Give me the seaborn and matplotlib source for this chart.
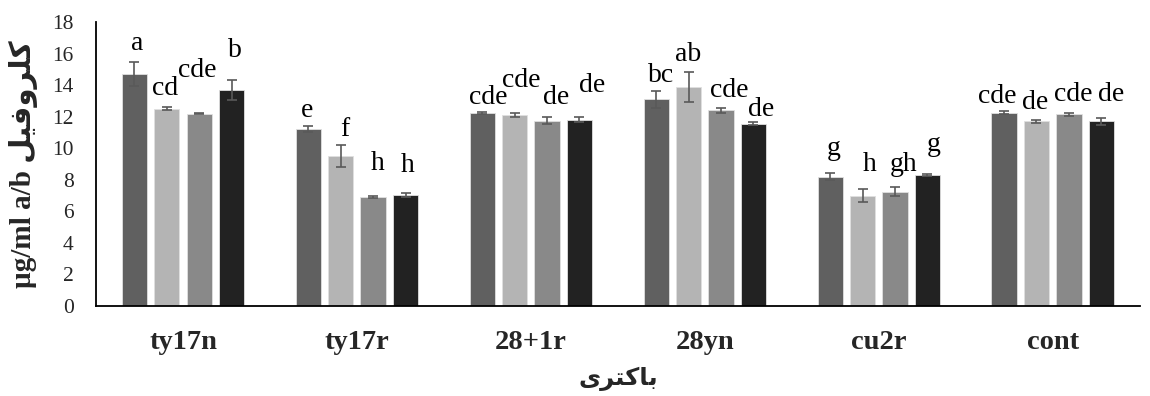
import matplotlib
matplotlib.use("Agg")
import matplotlib.pyplot as plt
import matplotlib.transforms as mtransforms
import seaborn as sns
import pandas as pd

# Bacterial treatments on the x axis
categories = ["ty17n", "ty17r", "28+1r", "28yn", "cu2r", "cont"]
series_names = ["s1", "s2", "s3", "s4"]

# Chlorophyll a/b means per series
s1 = [14.7, 11.2, 12.25, 13.1, 8.2, 12.25]
s2 = [12.5, 9.5, 12.1, 13.9, 7.0, 11.7]
s3 = [12.2, 6.9, 11.75, 12.4, 7.25, 12.15]
s4 = [13.7, 7.05, 11.8, 11.55, 8.3, 11.7]

# Standard errors
err1 = [0.75, 0.2, 0.05, 0.55, 0.2, 0.1]
err2 = [0.1, 0.7, 0.15, 0.95, 0.4, 0.12]
err3 = [0.05, 0.08, 0.2, 0.15, 0.28, 0.08]
err4 = [0.65, 0.12, 0.15, 0.1, 0.05, 0.2]

# Mean-separation letters
letters1 = ["a", "e", "cde", "bc", "g", "cde"]
letters2 = ["cd", "f", "cde", "ab", "h", "de"]
letters3 = ["cde", "h", "de", "cde", "gh", "cde"]
letters4 = ["b", "h", "de", "de", "g", "de"]

# Baseline heights of the letters (data units) and horizontal nudges (pixels)
label_y1 = [16.2, 12.0, 12.8, 14.2, 9.6, 12.9]
label_y2 = [13.4, 10.75, 13.9, 15.5, 8.55, 12.5]
label_y3 = [14.5, 8.6, 12.8, 13.25, 8.55, 13.0]
label_y4 = [15.8, 8.5, 13.55, 12.05, 9.8, 13.0]
label_dx1 = [3, -1, 6, 5, 4, -7]
label_dx2 = [-2, 4, 7, 0, 7, -1]
label_dx3 = [-2, 5, 9, 8, 9, 4]
label_dx4 = [3, 2, 13, 8, 6, 10]

values = [s1, s2, s3, s4]
errors = [err1, err2, err3, err4]
letters = [letters1, letters2, letters3, letters4]
label_ys = [label_y1, label_y2, label_y3, label_y4]
label_dxs = [label_dx1, label_dx2, label_dx3, label_dx4]

df = pd.DataFrame(
    [(c, name, v) for name, vals in zip(series_names, values) for c, v in zip(categories, vals)],
    columns=["bacteria", "series", "value"],
)

sns.set_style("white")
plt.rcParams["font.family"] = ["Liberation Serif", "DejaVu Sans"]

palette = ["#606060", "#b4b4b4", "#898989", "#222222"]

fig = plt.figure(figsize=(11.5, 3.96), dpi=100)
ax = fig.add_axes([0.0835, 0.2273, 0.9075, 0.717])

sns.barplot(
    data=df, x="bacteria", y="value", hue="series", order=categories,
    hue_order=series_names, palette=palette, saturation=1, width=0.745, gap=0.22,
    errorbar=None, legend=False, edgecolor="#e0e0e0", linewidth=0.6, ax=ax,
)

for cont, errs, labs, lys, dxs in zip(ax.containers, errors, letters, label_ys, label_dxs):
    for bar, e, lab, ly, dx in zip(cont, errs, labs, lys, dxs):
        x = bar.get_x() + bar.get_width() / 2
        h = bar.get_height()
        ax.errorbar(x, h, yerr=e, fmt="none", ecolor="#595959", elinewidth=1.2,
                    capsize=3.8, capthick=1.2, zorder=3)
        tr = mtransforms.offset_copy(ax.transData, fig=fig, x=dx, y=0, units="dots")
        ax.text(x, ly, lab, ha="center", va="baseline", fontsize=20, color="black",
                transform=tr, clip_on=False)

ax.set_ylim(0, 18)
ax.set_xlim(-0.5, 5.5)
ax.set_yticks(range(0, 19, 2))
ax.tick_params(axis="y", length=0, pad=16, labelsize=15.5)
ax.tick_params(axis="x", length=0, pad=17, labelsize=20.5)
for t in ax.get_xticklabels():
    t.set_fontweight("bold")

for side in ["top", "right"]:
    ax.spines[side].set_visible(False)
for side in ["left", "bottom"]:
    ax.spines[side].set_color("black")
    ax.spines[side].set_linewidth(1.3)

# Persian labels written in presentation forms, visual order
xlabel = "\uFBFC\uFEAE\uFE98\uFB90\uFE8E\uFE91"            # باکتری
ylabel_fa = "\uFEDE\uFBFF\uFED3\uFEED\uFEAE\uFEE0\uFB90"    # کلروفیل
ax.set_xlabel(xlabel, fontsize=17.5, fontweight="bold", labelpad=9)
ax.set_ylabel("\u00b5g/ml a/b " + ylabel_fa, fontsize=21, fontweight="bold", labelpad=10)

fig.savefig("out.png", dpi=100)
